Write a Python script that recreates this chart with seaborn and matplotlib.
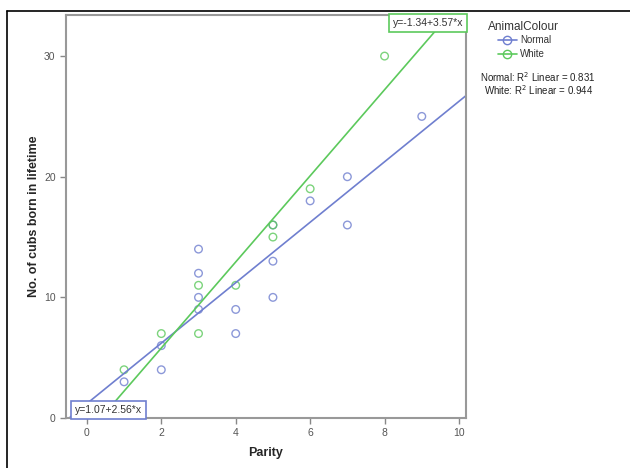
import matplotlib
matplotlib.use("Agg")
import matplotlib.pyplot as plt
import seaborn as sns
import pandas as pd
from matplotlib.lines import Line2D

# Data
normal_parity = [1, 2, 2, 3, 3, 3, 3, 4, 4, 5, 5, 5, 6, 7, 7, 9]
normal_cubs = [3, 6, 4, 14, 12, 10, 9, 9, 7, 16, 13, 10, 18, 20, 16, 25]
white_parity = [1, 2, 3, 3, 4, 5, 5, 6, 8]
white_cubs = [4, 7, 11, 7, 11, 16, 15, 19, 30]
groups = ["Normal", "White"]
eq_labels = ["y=1.07+2.56*x", "y=-1.34+3.57*x"]
r2_labels = ["Normal: R$^2$ Linear = 0.831", "White: R$^2$ Linear = 0.944"]

df = pd.DataFrame({
    "Parity": normal_parity + white_parity,
    "Cubs": normal_cubs + white_cubs,
    "AnimalColour": ["Normal"] * len(normal_parity) + ["White"] * len(white_parity),
})

sns.set_style("white")
plt.rcParams["font.family"] = ["Liberation Sans", "DejaVu Sans"]

colors = {"Normal": "#6f7fcf", "White": "#5cc95c"}

fig = plt.figure(figsize=(6.3, 4.68), dpi=100)
ax = fig.add_axes([0.1048, 0.1068, 0.635, 0.861])
ax.set_xlim(-0.56, 10.19)
ax.set_ylim(0, 33.4)

for g in groups:
    sub = df[df["AnimalColour"] == g]
    sns.regplot(data=sub, x="Parity", y="Cubs", ax=ax, ci=None, truncate=False,
                scatter_kws=dict(facecolors="none", edgecolors=colors[g], s=30, linewidths=1.0),
                line_kws=dict(color=colors[g], lw=1.2), marker="o")

ax.set_xlim(-0.56, 10.19)
ax.set_ylim(0, 33.4)
ax.set_xticks([0, 2, 4, 6, 8, 10])
ax.set_yticks([0, 10, 20, 30])
ax.tick_params(axis="both", direction="out", length=4, width=1, color="#888888",
               labelsize=7.5, labelcolor="#555555", bottom=True, left=True)
for s in ax.spines.values():
    s.set_color("#999999")
    s.set_linewidth(1.5)
ax.set_xlabel("Parity", fontsize=9, fontweight="bold", labelpad=6)
ax.set_ylabel("No. of cubs born in lifetime", fontsize=9, fontweight="bold", labelpad=3)

# Equation boxes
ax.text(0.993, 0.993, eq_labels[1], transform=ax.transAxes, ha="right", va="top",
        fontsize=7.5, color="#333333",
        bbox=dict(boxstyle="square,pad=0.4", fc="white", ec=colors["White"], lw=1.2))
ax.text(0.022, 0.008, eq_labels[0], transform=ax.transAxes, ha="left", va="bottom",
        fontsize=7.5, color="#333333",
        bbox=dict(boxstyle="square,pad=0.4", fc="white", ec=colors["Normal"], lw=1.2))

# Legend
fig.text(0.775, 0.942, "AnimalColour", fontsize=8.5, color="#333333", ha="left", va="center")
handles = [Line2D([0], [0], color=colors[g], lw=1.2, marker="o", markerfacecolor="none",
                  markeredgecolor=colors[g], markersize=6) for g in groups]
leg = fig.legend(handles, groups, loc="upper left",
                 bbox_to_anchor=(0.790, 0.925), frameon=False, fontsize=7,
                 handlelength=2.0, handletextpad=0.3,
                 labelspacing=0.4, borderaxespad=0, borderpad=0)
for t in leg.get_texts():
    t.set_color("#333333")

fig.text(0.762, 0.835, r2_labels[0], fontsize=7, color="#222222", ha="left", va="center")
fig.text(0.768, 0.807, r2_labels[1], fontsize=7, color="#222222", ha="left", va="center")

# Outer frame (top and left edges)
fig.add_artist(Line2D([0.011, 1.0], [0.977, 0.977], color="black", lw=1.2, transform=fig.transFigure))
fig.add_artist(Line2D([0.011, 0.011], [0.0, 0.977], color="black", lw=1.2, transform=fig.transFigure))

fig.savefig("out.png", dpi=100)
